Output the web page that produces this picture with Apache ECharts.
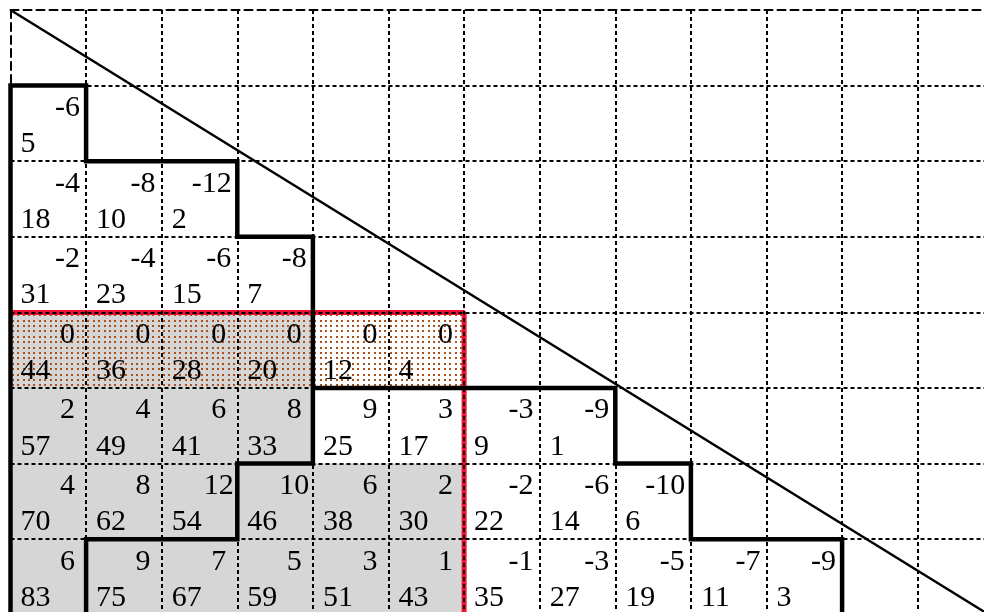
<!DOCTYPE html>
<html>
<head>
<meta charset="utf-8">
<script src="https://cdn.jsdelivr.net/npm/echarts@6/dist/echarts.min.js"></script>
<style>
html,body{margin:0;padding:0;background:#fff;}
#chart{width:984px;height:612px;}
</style>
</head>
<body>
<div id="chart"></div>
<script>
// ---- data ----
// top-right numbers per row (rows 1..7, columns from 0)
const topRow1 = [-6];
const topRow2 = [-4, -8, -12];
const topRow3 = [-2, -4, -6, -8];
const topRow4 = [0, 0, 0, 0, 0, 0];
const topRow5 = [2, 4, 6, 8, 9, 3, -3, -9];
const topRow6 = [4, 8, 12, 10, 6, 2, -2, -6, -10];
const topRow7 = [6, 9, 7, 5, 3, 1, -1, -3, -5, -7, -9];
// bottom-left numbers per row
const botRow1 = [5];
const botRow2 = [18, 10, 2];
const botRow3 = [31, 23, 15, 7];
const botRow4 = [44, 36, 28, 20, 12, 4];
const botRow5 = [57, 49, 41, 33, 25, 17, 9, 1];
const botRow6 = [70, 62, 54, 46, 38, 30, 22, 14, 6];
const botRow7 = [83, 75, 67, 59, 51, 43, 35, 27, 19, 11, 3];
// shaded cells [col,row]
const grayCells = [[0,4],[1,4],[2,4],[3,4],[0,5],[1,5],[2,5],[3,5],
  [0,6],[1,6],[2,6],[3,6],[4,6],[5,6],[0,7],[1,7],[2,7],[3,7],[4,7],[5,7]];
const dottedCells = [[0,4],[1,4],[2,4],[3,4],[4,4],[5,4]];
// boundary paths in grid units [col,row]
const staircaseA = [[0,8],[0,1],[1,1],[1,2],[3,2],[3,3],[4,3],[4,6],[3,6],[3,7],[1,7],[1,8]];
const staircaseB = [[4,5],[8,5],[8,6],[9,6],[9,7],[11,7],[11,8]];
const redPath = [[0,4],[6,4],[6,8]];
const diagonal = [[0,0],[13,8.034]];

const topRows = [topRow1, topRow2, topRow3, topRow4, topRow5, topRow6, topRow7];
const botRows = [botRow1, botRow2, botRow3, botRow4, botRow5, botRow6, botRow7];
const labelData = [];
topRows.forEach((vals, i) => vals.forEach((v, c) => labelData.push([c, i + 1, String(v), 't'])));
botRows.forEach((vals, i) => vals.forEach((v, c) => labelData.push([c, i + 1, String(v), 'b'])));

// dot pattern
const pat = document.createElement('canvas');
pat.width = 27; pat.height = 27;
const pctx = pat.getContext('2d');
pctx.fillStyle = '#a9521c';
[1, 6, 12, 17, 23].forEach(x => [1, 6, 12, 17, 23].forEach(y => pctx.fillRect(x, y, 2, 2)));

const chart = echarts.init(document.getElementById('chart'), null, {renderer: 'canvas'});

function rectItem(fillStyle) {
  return function (params, api) {
    const p0 = api.coord([api.value(0), api.value(1)]);
    const p1 = api.coord([api.value(0) + 1, api.value(1) + 1]);
    return {type: 'rect', shape: {x: p0[0], y: p0[1], width: p1[0] - p0[0], height: p1[1] - p0[1]},
      style: {fill: fillStyle}};
  };
}

chart.setOption({
  backgroundColor: '#ffffff',
  animation: false,
  grid: {left: 10.5, top: 10, width: 982.8, height: 604.8, containLabel: false, outerBoundsMode: 'none'},
  xAxis: {
    type: 'value', min: 0, max: 13, interval: 1, position: 'top', z: 3,
    axisLine: {show: true, lineStyle: {color: '#000', width: 2, type: [8, 5]}},
    axisTick: {show: false}, axisLabel: {show: false},
    splitLine: {show: true, showMinLine: false, lineStyle: {color: '#000', width: 2, type: [4, 3]}}
  },
  yAxis: {
    type: 'value', min: 0, max: 8, interval: 1, inverse: true, z: 3,
    axisLine: {show: true, lineStyle: {color: '#000', width: 2, type: [8, 5]}},
    axisTick: {show: false}, axisLabel: {show: false},
    splitLine: {show: true, showMinLine: false, lineStyle: {color: '#000', width: 2, type: [4, 3]}}
  },
  series: [
    {type: 'custom', z: 1, data: grayCells, renderItem: rectItem('#d6d6d6'), silent: true},
    {type: 'custom', z: 1, data: dottedCells, renderItem: rectItem({type: 'pattern', image: pat, repeat: 'repeat'}), silent: true},
    {type: 'line', z: 2, data: redPath, showSymbol: false, symbol: 'none', lineStyle: {color: '#ee1133', width: 5}, silent: true},
    {type: 'line', z: 5, data: staircaseA, showSymbol: false, symbol: 'none', lineStyle: {color: '#000', width: 4.5, join: 'miter'}, silent: true},
    {type: 'line', z: 5, data: staircaseB, showSymbol: false, symbol: 'none', lineStyle: {color: '#000', width: 4.5, join: 'miter'}, silent: true},
    {type: 'line', z: 5, data: diagonal, showSymbol: false, symbol: 'none', lineStyle: {color: '#000', width: 2.5}, silent: true},
    {
      type: 'custom', z: 6, silent: true, data: labelData,
      renderItem: function (params, api) {
        const d = labelData[params.dataIndex];
        const p = api.coord([d[0], d[1]]);
        const txt = d[2];
        const base = {fill: '#000', fontSize: 30, fontFamily: 'Liberation Serif', verticalAlign: 'middle'};
        if (d[3] === 't') {
          const long = txt.length >= 3;
          return {type: 'text', style: Object.assign({text: txt, x: p[0] + (long ? 70 : 57), y: p[1] + 22.5,
            align: long ? 'right' : 'center'}, base)};
        }
        return {type: 'text', style: Object.assign({text: txt, x: p[0] + 10, y: p[1] + 58.8, align: 'left'}, base)};
      }
    }
  ]
});
</script>
</body>
</html>
